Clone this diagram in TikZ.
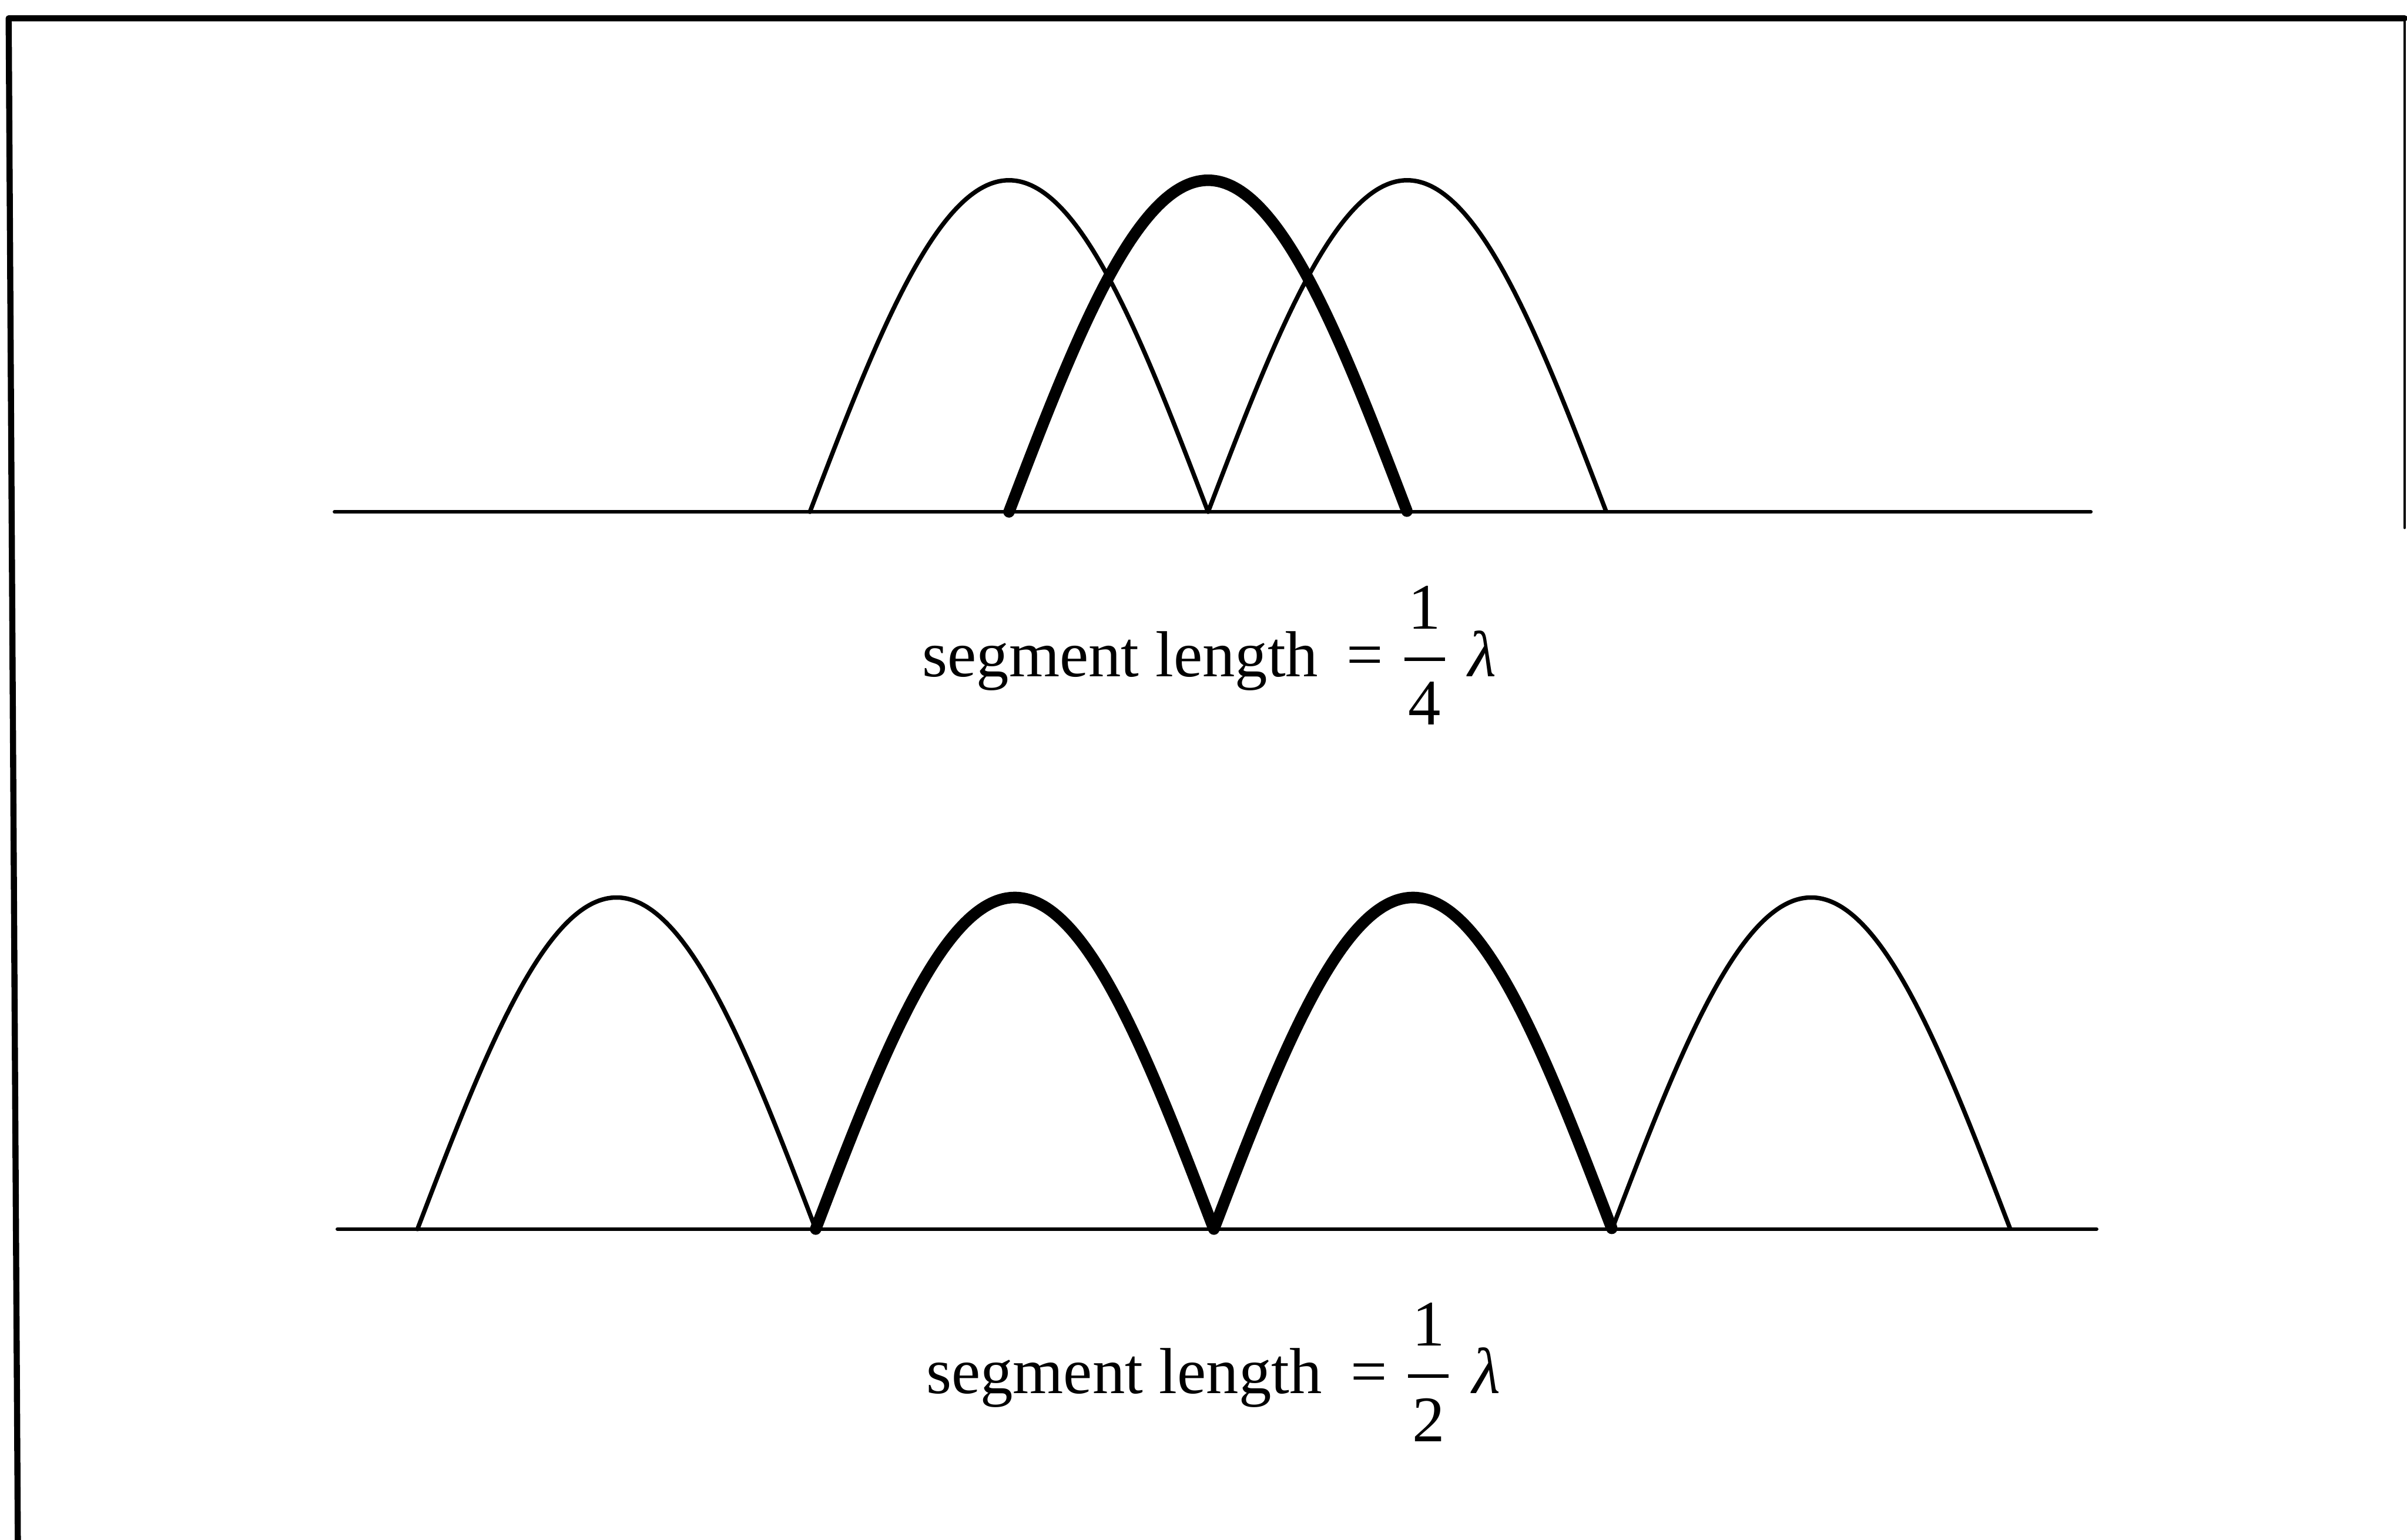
\documentclass[tikz,border=0pt]{standalone}
\usepackage{fontspec}
\usepackage{amsmath}
\setmainfont{Liberation Serif}
\newcommand{\seglen}[1]{segment length\hspace{0.44em}\mbox{=}\hspace{0.26em}$\genfrac{}{}{1.1pt}{0}{\mbox{\hspace{.06em}1\hspace{.06em}}}{\mbox{#1}}$\hspace{0.3em}\textit{λ}}
\begin{document}
\begin{tikzpicture}[line join=round, line cap=round, font=\fontsize{19.2}{23}\selectfont]
	\def\w{4.13} \def\h{3.44}
	\def\ya{10.665} \def\yb{3.225}
	\tikzset{thinarc/.style={line width=1.3pt}, thickarc/.style={line width=3.4pt},
		axisline/.style={line width=1.1pt}, lbl/.style={anchor=base west, inner sep=0pt}}
	\useasboundingbox (0,0) rectangle (24.965,15.975);
	% frame, open at the bottom
	\draw[line width=1.8pt] (0.185,0) -- (0.09,15.785) -- (24.94,15.785);
	\draw[line width=0.8pt] (24.94,15.785) -- (24.94,10.5);
	% quarter wavelength
	\draw[axisline] (3.47,\ya) -- (21.685,\ya);
	\foreach \s in {8.40,12.53}
		\draw[thinarc] plot[domain=0:1,samples=60,smooth] ({\s+\w*\x},{\ya+\h*sin(180*\x)});
	\draw[thickarc] plot[domain=0:1,samples=60,smooth] ({10.465+\w*\x},{\ya+\h*sin(180*\x)});
	\node[lbl] (quarter) at (9.56,8.955) {\seglen{4}};
	% half wavelength
	\draw[axisline] (3.5,\yb) -- (21.745,\yb);
	\foreach \s in {4.33,16.72}
		\draw[thinarc] plot[domain=0:1,samples=60,smooth] ({\s+\w*\x},{\yb+\h*sin(180*\x)});
	\foreach \s in {8.46,12.59}
		\draw[thickarc] plot[domain=0:1,samples=60,smooth] ({\s+\w*\x},{\yb+\h*sin(180*\x)});
	\node[lbl] (half) at (9.6,1.52) {\seglen{2}};
\end{tikzpicture}
\end{document}
